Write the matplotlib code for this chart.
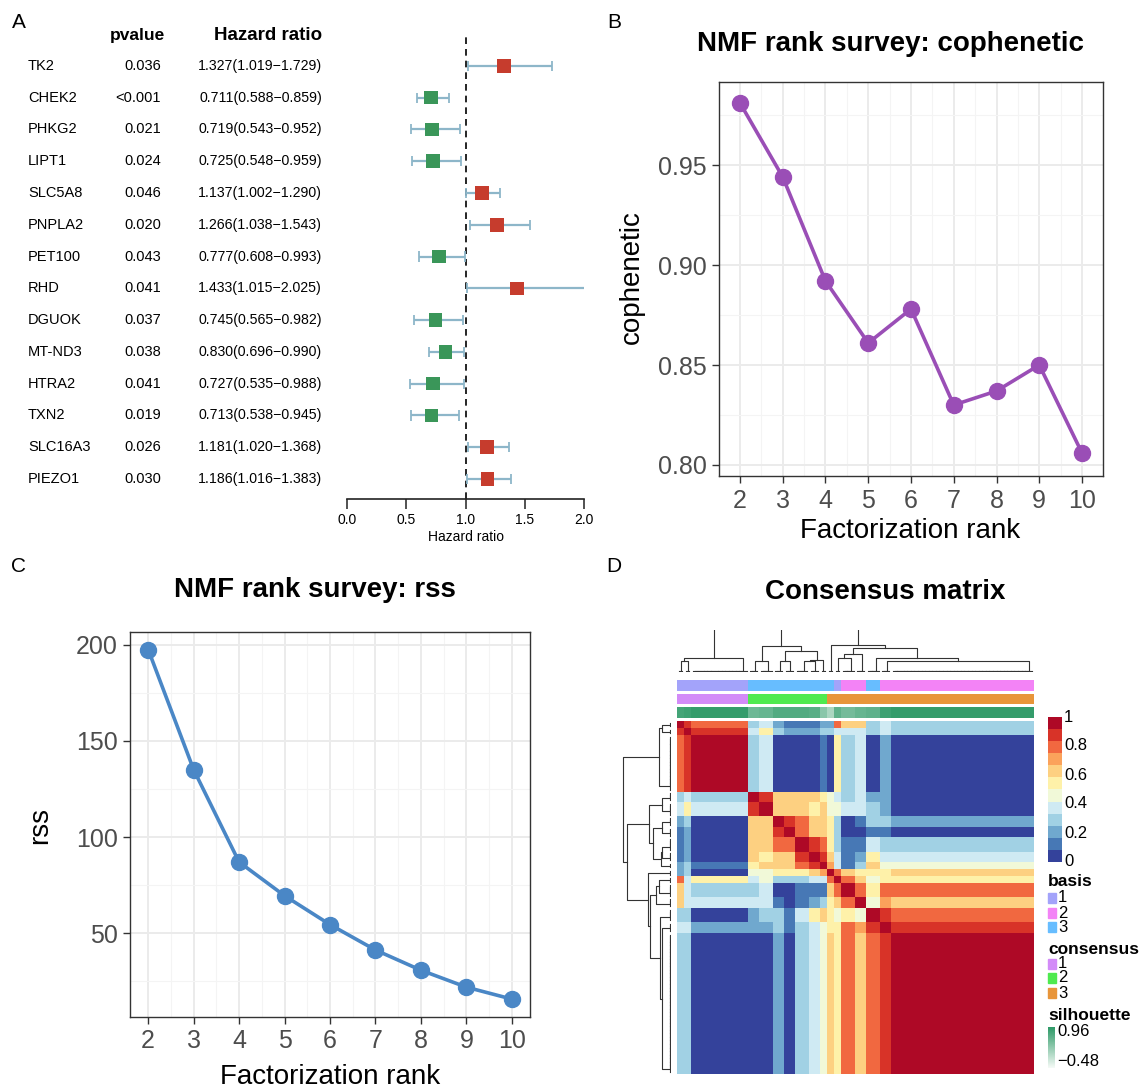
import numpy as np
import matplotlib
matplotlib.use("Agg")
import matplotlib.pyplot as plt
from matplotlib.colors import ListedColormap, LinearSegmentedColormap
from matplotlib.transforms import blended_transform_factory
from matplotlib.ticker import MultipleLocator

plt.rcParams["font.family"] = ["Liberation Sans", "DejaVu Sans"]

W, H = 1144, 1089

# ---- panel A: univariate Cox regression ----
GENES = ["TK2", "CHEK2", "PHKG2", "LIPT1", "SLC5A8", "PNPLA2", "PET100", "RHD",
         "DGUOK", "MT-ND3", "HTRA2", "TXN2", "SLC16A3", "PIEZO1"]
PVALUES = ["0.036", "<0.001", "0.021", "0.024", "0.046", "0.020", "0.043", "0.041",
           "0.037", "0.038", "0.041", "0.019", "0.026", "0.030"]
HR = [1.327, 0.711, 0.719, 0.725, 1.137, 1.266, 0.777, 1.433, 0.745, 0.830, 0.727,
      0.713, 1.181, 1.186]
HR_LOW = [1.019, 0.588, 0.543, 0.548, 1.002, 1.038, 0.608, 1.015, 0.565, 0.696, 0.535,
          0.538, 1.020, 1.016]
HR_HIGH = [1.729, 0.859, 0.952, 0.959, 1.290, 1.543, 0.993, 2.025, 0.982, 0.990, 0.988,
           0.945, 1.368, 1.383]

# ---- panels B, C: NMF rank survey ----
RANKS = [2, 3, 4, 5, 6, 7, 8, 9, 10]
COPHENETIC = [0.981, 0.944, 0.892, 0.861, 0.878, 0.830, 0.837, 0.850, 0.806]
RSS = [197.4, 135.0, 87.0, 69.5, 54.5, 41.3, 30.8, 22.0, 15.8]

# ---- panel D: consensus matrix, summarised as blocks of ordered samples ----
SEG_SIZES = [2, 2, 16, 3, 4, 3, 3, 4, 3, 2, 2, 2, 4, 3, 4, 3, 40]
# upper triangle of the block consensus values (row i lists columns i..end)
CONS_BLOCKS = [
    [1.0, 0.85, 0.75, 0.30, 0.40, 0.20, 0.10, 0.10, 0.15, 0.20, 0.20, 0.75, 0.60, 0.65, 0.30, 0.40, 0.30],
    [1.0, 0.85, 0.40, 0.50, 0.25, 0.20, 0.20, 0.20, 0.30, 0.30, 0.40, 0.35, 0.40, 0.30, 0.35, 0.25],
    [1.0, 0.30, 0.40, 0.05, 0.05, 0.05, 0.05, 0.12, 0.05, 0.50, 0.30, 0.40, 0.05, 0.20, 0.02],
    [1.0, 0.85, 0.65, 0.65, 0.65, 0.60, 0.55, 0.45, 0.40, 0.30, 0.35, 0.20, 0.20, 0.05],
    [1.0, 0.60, 0.60, 0.60, 0.55, 0.60, 0.45, 0.45, 0.35, 0.40, 0.25, 0.20, 0.05],
    [1.0, 0.85, 0.80, 0.60, 0.60, 0.50, 0.25, 0.05, 0.10, 0.30, 0.25, 0.20],
    [1.0, 0.75, 0.60, 0.65, 0.50, 0.25, 0.05, 0.05, 0.15, 0.10, 0.05],
    [1.0, 0.85, 0.80, 0.55, 0.30, 0.10, 0.15, 0.35, 0.30, 0.30],
    [1.0, 0.85, 0.60, 0.35, 0.10, 0.20, 0.50, 0.40, 0.40],
    [1.0, 0.70, 0.40, 0.15, 0.30, 0.60, 0.45, 0.45],
    [1.0, 0.75, 0.65, 0.50, 0.55, 0.55, 0.60],
    [1.0, 0.80, 0.60, 0.45, 0.50, 0.50],
    [1.0, 0.80, 0.50, 0.80, 0.75],
    [1.0, 0.45, 0.70, 0.60],
    [1.0, 0.85, 0.80],
    [1.0, 0.85],
    [1.0],
]
BASIS = [1, 1, 1, 3, 3, 3, 3, 3, 3, 3, 3, 1, 2, 2, 3, 2, 2]
CONSENSUS = [1, 1, 1, 2, 2, 2, 2, 2, 2, 2, 3, 3, 3, 3, 3, 3, 3]
SILHOUETTE = [0.80, 0.85, 0.92, 0.50, 0.55, 0.70, 0.70, 0.70, 0.65, 0.30, 0.05,
              0.60, 0.45, 0.55, 0.60, 0.85, 0.92]
BASIS_COLORS = {1: "#A3A3FA", 2: "#F383F6", 3: "#67BDFF"}
CONS_COLORS = {1: "#D38BF8", 2: "#4FEA4F", 3: "#E8953A"}
SIL_RANGE = (-0.48, 0.96)

fig = plt.figure(figsize=(W / 100, H / 100), dpi=100)


def px_axes(x0, y0, x1, y1):
    return fig.add_axes([x0 / W, 1 - y1 / H, (x1 - x0) / W, (y1 - y0) / H])


def fig_text(x, y, s, **kw):
    fig.text(x / W, 1 - y / H, s, **kw)


# ================= A: forest plot =================
n = len(GENES)
ys = np.arange(n, 0, -1)
axf = px_axes(347, 35, 584, 499)
axf.set_xlim(0, 2)
axf.set_ylim(0.37, 14.97)
ci_col = "#8DB6C9"
axf.hlines(ys, HR_LOW, HR_HIGH, color=ci_col, lw=1.6)
axf.vlines(HR_LOW, ys - 0.16, ys + 0.16, color=ci_col, lw=1.3)
axf.vlines(HR_HIGH, ys - 0.16, ys + 0.16, color=ci_col, lw=1.3)
cols = ["#C63C2D" if h > 1 else "#3A9659" for h in HR]
axf.scatter(HR, ys, marker="s", s=95, c=cols, zorder=3, linewidths=0)
axf.axvline(1, color="black", ls=(0, (4, 3)), lw=1.2, zorder=1)
for s in ["top", "right", "left"]:
    axf.spines[s].set_visible(False)
axf.spines["bottom"].set_color("#222222")
axf.spines["bottom"].set_linewidth(1.2)
axf.set_yticks([])
axf.set_xticks([0, 0.5, 1.0, 1.5, 2.0])
axf.set_xticklabels(["0.0", "0.5", "1.0", "1.5", "2.0"])
axf.tick_params(axis="x", length=7, width=1.1, labelsize=10, pad=3, color="#222222")
axf.set_xlabel("Hazard ratio", fontsize=10, labelpad=2)
axf.patch.set_alpha(0)
tr = blended_transform_factory(fig.transFigure, axf.transData)
for y, g, p, h, lo, hi in zip(ys, GENES, PVALUES, HR, HR_LOW, HR_HIGH):
    axf.text(28 / W, y, g, transform=tr, ha="left", va="center", fontsize=10.5, clip_on=False)
    axf.text(161 / W, y, p, transform=tr, ha="right", va="center", fontsize=10.5, clip_on=False)
    axf.text(322 / W, y, f"{h:.3f}({lo:.3f}\u2212{hi:.3f})", transform=tr, ha="right",
             va="center", fontsize=10.2, clip_on=False)
axf.text(165 / W, 14.95, "pvalue", transform=tr, ha="right", va="center", fontsize=12.5,
         fontweight="bold", clip_on=False)
axf.text(322 / W, 14.95, "Hazard ratio", transform=tr, ha="right", va="center",
         fontsize=13.5, fontweight="bold", clip_on=False)


# ================= B, C: rank survey line plots =================
def survey(box, values, color, xlim, ylim, ymajor, label, title, title_xy, ylab_xy, xlab_xy):
    ax = px_axes(*box)
    ax.plot(RANKS, values, color=color, lw=2.6, marker="o", ms=11.5, zorder=3)
    ax.set_xlim(*xlim)
    ax.set_ylim(*ylim)
    ax.set_xticks(RANKS)
    ax.xaxis.set_minor_locator(MultipleLocator(0.5))
    ax.yaxis.set_major_locator(MultipleLocator(ymajor))
    ax.yaxis.set_minor_locator(MultipleLocator(ymajor / 2))
    ax.grid(which="major", color="#EBEBEB", lw=1.4)
    ax.grid(which="minor", color="#F4F4F4", lw=0.8)
    ax.set_axisbelow(True)
    for s in ax.spines.values():
        s.set_color("#333333")
        s.set_linewidth(1.0)
    ax.tick_params(which="major", length=5, width=1.0, color="#333333",
                   labelsize=18, labelcolor="#4D4D4D", pad=4)
    ax.tick_params(which="minor", length=0)
    fig_text(*title_xy, title, fontsize=20, fontweight="bold", ha="center", va="center")
    fig_text(*ylab_xy, label, fontsize=20, rotation=90, ha="center", va="center")
    fig_text(*xlab_xy, "Factorization rank", fontsize=20, ha="center", va="center")
    return ax


axb = survey((719, 82, 1103, 476), COPHENETIC, "#9A4EB6", (1.509, 10.491), (0.7945, 0.9915),
             0.05, "cophenetic", "NMF rank survey: cophenetic", (890, 44), (632, 277),
             (910, 531))
axb.yaxis.set_major_formatter(matplotlib.ticker.FormatStrFormatter("%.2f"))
axc = survey((130, 632, 530, 1017), RSS, "#4A87C6", (1.6, 10.4), (6.5, 206.5), 50,
             "rss", "NMF rank survey: rss", (315, 590), (40, 825), (330, 1077))

# ================= D: consensus matrix =================
nseg = len(SEG_SIZES)
blocks = np.zeros((nseg, nseg))
for i, row in enumerate(CONS_BLOCKS):
    blocks[i, i:] = row
    blocks[i:, i] = row
idx = np.repeat(np.arange(nseg), SEG_SIZES)
cons = blocks[np.ix_(idx, idx)]
np.fill_diagonal(cons, 1.0)
N = len(idx)

cmap12 = ListedColormap(plt.cm.RdYlBu_r(np.linspace(0.02, 0.98, 12)))
axh = px_axes(677, 721, 1034, 1074)
axh.imshow(cons, cmap=cmap12, vmin=0, vmax=1, aspect="auto", interpolation="nearest")
axh.set_axis_off()


def ordered_linkage(dist):
    # average linkage restricted to neighbouring clusters in the display order
    nodes = [(i, i + 1, i, 0.0) for i in range(len(dist))]
    links = []
    while len(nodes) > 1:
        gaps = [dist[a[0]:a[1], b[0]:b[1]].mean() for a, b in zip(nodes[:-1], nodes[1:])]
        k = int(np.argmin(gaps))
        a, b = nodes[k], nodes[k + 1]
        h = max(gaps[k], a[3], b[3])
        links.append((a[2], a[3], b[2], b[3], h))
        nodes[k:k + 2] = [(a[0], b[1], (a[2] + b[2]) / 2, h)]
    return links, nodes[0][3]


links, root = ordered_linkage(1 - cons)
dcol = "#333333"
axr = px_axes(622, 721, 671, 1074)
axt = px_axes(677, 630, 1034, 672)
for x1, h1, x2, h2, h in links:
    axr.plot([h1, h, h, h2], [x1, x1, x2, x2], color=dcol, lw=0.8)
    axt.plot([x1, x1, x2, x2], [h1, h, h, h2], color=dcol, lw=0.8)
axr.set_ylim(N - 0.5, -0.5)
axr.set_xlim(root * 1.02, -0.012 * root)
axr.set_axis_off()
axt.set_xlim(-0.5, N - 0.5)
axt.set_ylim(-0.02 * root, 0.75 * root)
axt.set_axis_off()

# annotation tracks
basis_rgb = np.array([matplotlib.colors.to_rgb(BASIS_COLORS[b]) for b in BASIS])[idx]
cons_rgb = np.array([matplotlib.colors.to_rgb(CONS_COLORS[c]) for c in CONSENSUS])[idx]
sil_cmap = LinearSegmentedColormap.from_list("sil", ["#F4FAF6", "#2F9A68"])
sil_vals = np.array(SILHOUETTE)[idx]
for (y0, y1), img in [((680, 691), basis_rgb[None]), ((694, 704), cons_rgb[None])]:
    a = px_axes(677, y0, 1034, y1)
    a.imshow(img, aspect="auto", interpolation="nearest")
    a.set_axis_off()
a = px_axes(677, 707, 1034, 718)
a.imshow(sil_vals[None], cmap=sil_cmap, vmin=SIL_RANGE[0], vmax=SIL_RANGE[1],
         aspect="auto", interpolation="nearest")
a.set_axis_off()

# legends
axcb = px_axes(1048, 717, 1062, 862)
axcb.imshow(np.linspace(1, 0, 12)[:, None], cmap=cmap12, vmin=0, vmax=1, aspect="auto",
            interpolation="nearest")
axcb.set_axis_off()
for v in [1, 0.8, 0.6, 0.4, 0.2, 0]:
    fig_text(1064, 717 + (1 - v) * 145, f"{v:g}", fontsize=12, ha="left", va="center")


def legend_group(title, y_title, colors, y_items):
    fig_text(1048, y_title, title, fontsize=12.5, fontweight="bold", ha="left", va="center")
    for lab, y in zip(sorted(colors), y_items):
        fig.patches.append(plt.Rectangle((1048 / W, 1 - (y + 5) / H), 8 / W, 10 / H,
                                         color=colors[lab], transform=fig.transFigure))
        fig_text(1058, y, str(lab), fontsize=12, ha="left", va="center")


legend_group("basis", 882, BASIS_COLORS, [898, 913, 927])
legend_group("consensus", 949, CONS_COLORS, [964, 978, 993])
fig_text(1048, 1015, "silhouette", fontsize=12.5, fontweight="bold", ha="left", va="center")
axsl = px_axes(1048, 1027, 1055, 1068)
axsl.imshow(np.linspace(1, 0, 50)[:, None], cmap=sil_cmap, aspect="auto")
axsl.set_axis_off()
fig_text(1057, 1031, f"{SIL_RANGE[1]:.2f}", fontsize=12, ha="left", va="center")
fig_text(1057, 1061, f"\u2212{abs(SIL_RANGE[0]):.2f}", fontsize=12, ha="left", va="center")
fig_text(885, 592, "Consensus matrix", fontsize=20, fontweight="bold", ha="center",
         va="center")

# panel letters
for lab, x, y in [("A", 19, 22), ("B", 614, 22), ("C", 19, 567), ("D", 614, 567)]:
    fig_text(x, y, lab, fontsize=15, ha="center", va="center")

fig.savefig("out.png", dpi=100)
